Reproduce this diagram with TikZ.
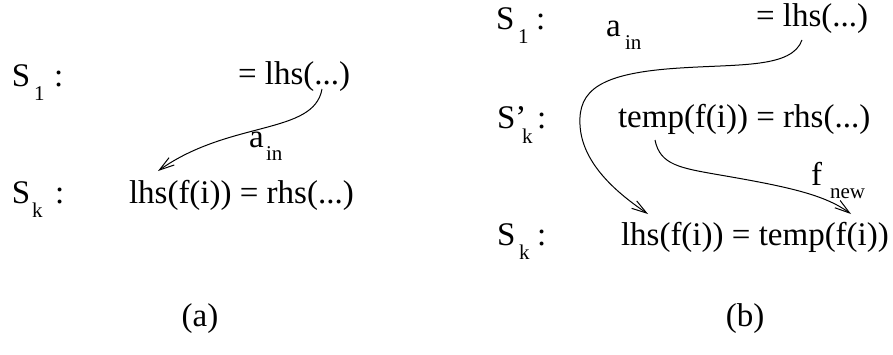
\documentclass[tikz,border=0pt]{standalone}
\usepackage{fontspec}
\setmainfont{Liberation Serif}
\usetikzlibrary{arrows.meta}
\begin{document}
\begin{tikzpicture}[x=1pt,y=-1pt,
  txt/.style={anchor=base west,inner sep=0pt,outer sep=0pt,font=\fontsize{33}{39}\selectfont},
  sub/.style={anchor=base west,inner sep=0pt,outer sep=0pt,font=\fontsize{21}{25}\selectfont},
  captxt/.style={anchor=base,inner sep=0pt,outer sep=0pt,font=\fontsize{33}{39}\selectfont},
  conn/.style={line width=1pt,-{Straight Barb[length=15pt,width=9pt]}}]
\useasboundingbox (0,0) rectangle (893,354);
% ---------- (a) ----------
\node[txt] (aS1) at (12,86) {S};
\node[sub] (aS1i) at (34,100) {1};
\node[txt] (aS1c) at (54,86) {:};
\node[txt] (aR1) at (238,84) {= lhs(...)};
\node[txt] (aSk) at (12,203) {S};
\node[sub] (aSki) at (32,217) {k};
\node[txt] (aSkc) at (55,203) {:};
\node[txt] (aR2) at (129,203) {lhs(f(i)) = rhs(...)};
\node[txt] (aA) at (249,147) {a};
\node[sub] (aAi) at (266,160) {in};
\coordinate (aFrom) at (322,89);
\coordinate (aTo) at (158,171);
\draw[conn] (aFrom) .. controls (314,135) and (230,120) .. (aTo);
\node[captxt] (la) at (200,326) {(a)};
% ---------- (b) ----------
\node[txt] (bS1) at (496,29) {S};
\node[sub] (bS1i) at (518,43) {1};
\node[txt] (bS1c) at (536,29) {:};
\node[txt] (bR1) at (756,26) {= lhs(...)};
\node[txt] (bA) at (606,36) {a};
\node[sub] (bAi) at (625,49) {in};
\node[txt] (bS2) at (497,128) {S’};
\node[sub] (bS2i) at (522,143) {k};
\node[txt] (bS2c) at (537,128) {:};
\node[txt] (bR2) at (618,127) {temp(f(i)) = rhs(...)};
\node[txt] (bS3) at (497,245) {S};
\node[sub] (bS3i) at (519,259) {k};
\node[txt] (bS3c) at (537,245) {:};
\node[txt] (bR3) at (621,245) {lhs(f(i)) = temp(f(i))};
\node[txt] (bF) at (811,185) {f};
\node[sub] (bFi) at (830,198) {new};
\coordinate (b1From) at (802,40);
\coordinate (b1To) at (648,214);
\draw[conn] (b1From) .. controls (792,68) and (740,64) .. (680,68)
  .. controls (600,73) and (578,90) .. (580,125)
  .. controls (582,165) and (620,195) .. (b1To);
\coordinate (b2From) at (655,140);
\coordinate (b2To) at (851,214);
\draw[conn] (b2From) .. controls (660,165) and (680,168) .. (720,175)
  .. controls (790,187) and (825,195) .. (b2To);
\node[captxt] (lb) at (745,326) {(b)};
\end{tikzpicture}
\end{document}
